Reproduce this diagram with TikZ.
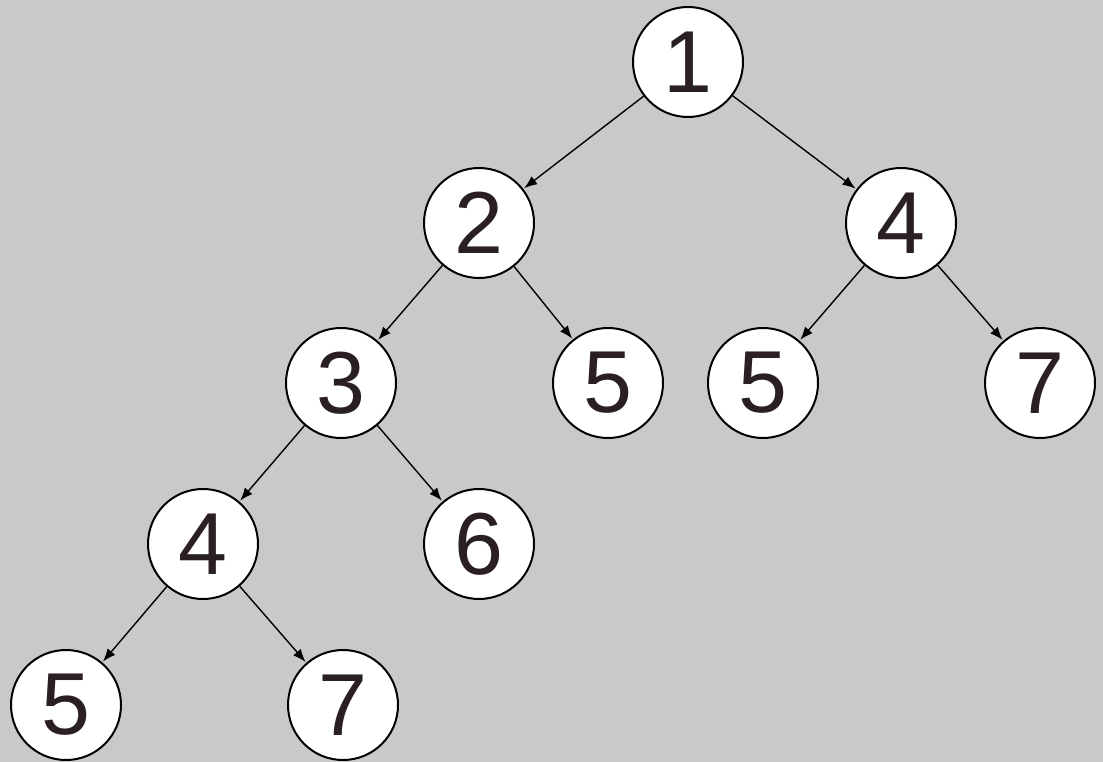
\documentclass[tikz,border=0pt]{standalone}
\usepackage{fontspec}
\setmainfont{Liberation Sans}
\usetikzlibrary{arrows.meta}

\definecolor{canvas}{RGB}{201,201,201}
\definecolor{digit}{RGB}{42,32,34}

\tikzset{
  vertex/.style={circle, draw=black, line width=2pt, fill=white, minimum size=110pt, inner sep=0pt,
                 text=digit, font=\fontsize{88}{88}\selectfont},
  edge/.style={line width=1.4pt, -{Latex[length=13pt,width=10pt]}, shorten >=1pt}
}

\begin{document}
\begin{tikzpicture}[x=1pt,y=-1pt]
	  \fill[canvas] (0,0) rectangle (1103,762);   % background
	  \useasboundingbox (0,0) rectangle (1103,762);

	  % root and first level
	  \node[vertex] (n1) at (688, 62) {1};
	  \node[vertex] (n2) at (479,223) {2};
	  \node[vertex] (n4r) at (901,223) {4};

	  % second level
	  \node[vertex] (n3) at (341,383) {3};
	  \node[vertex] (n5a) at (608,383) {5};
	  \node[vertex] (n5b) at (763,383) {5};
	  \node[vertex] (n7r) at (1040,383) {7};

	  % third level
	  \node[vertex] (n4) at (203,544) {4};
	  \node[vertex] (n6) at (479,544) {6};

	  % fourth level
	  \node[vertex] (n5c) at (66,705) {5};
	  \node[vertex] (n7) at (343,705) {7};

	  \draw[edge] (n1) -- (n2);
	  \draw[edge] (n1) -- (n4r);
	  \draw[edge] (n2) -- (n3);
	  \draw[edge] (n2) -- (n5a);
	  \draw[edge] (n4r) -- (n5b);
	  \draw[edge] (n4r) -- (n7r);
	  \draw[edge] (n3) -- (n4);
	  \draw[edge] (n3) -- (n6);
	  \draw[edge] (n4) -- (n5c);
	  \draw[edge] (n4) -- (n7);

	\end{tikzpicture}
\end{document}
